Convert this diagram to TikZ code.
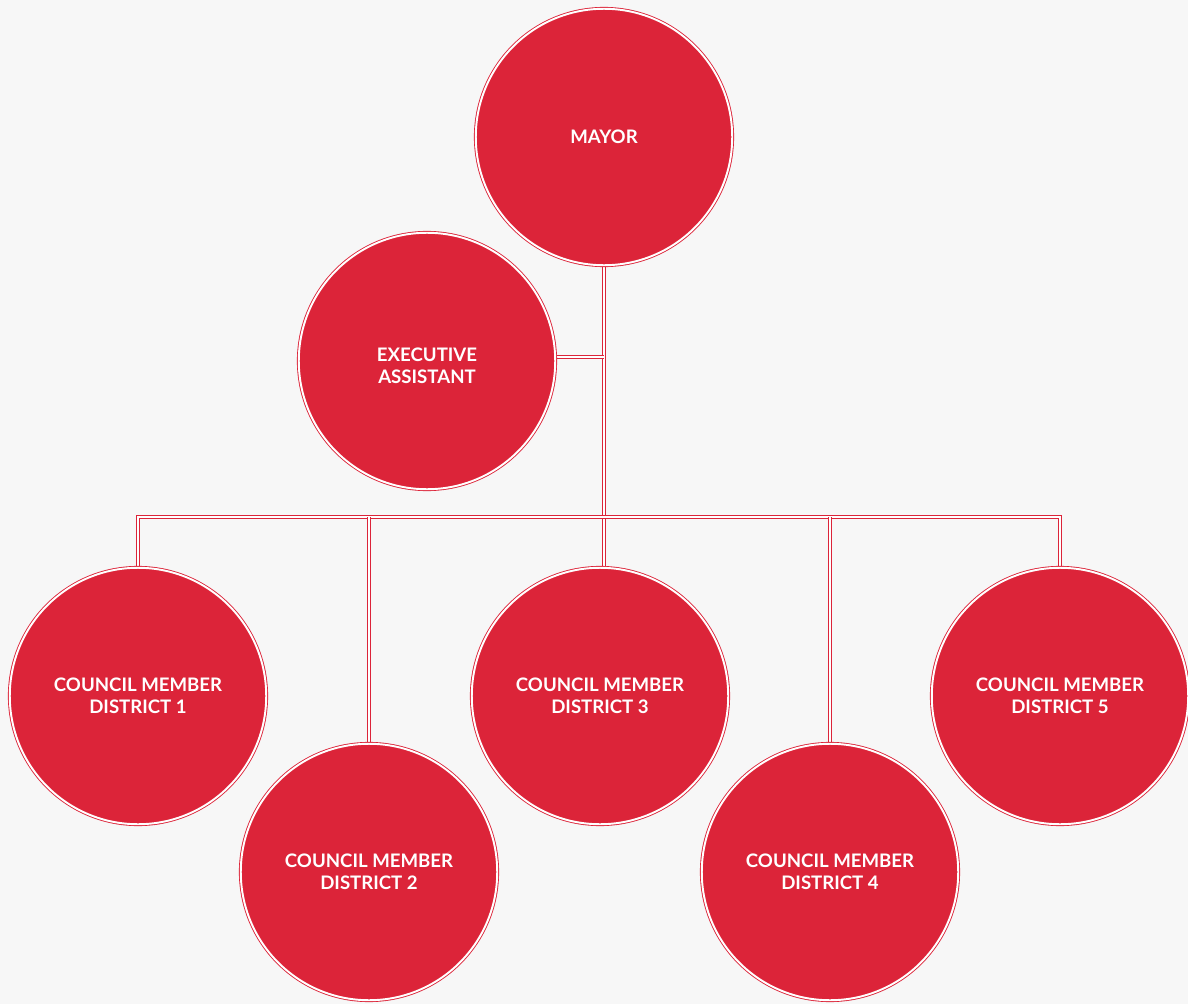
\documentclass[tikz,border=0pt]{standalone}
\usepackage{fontspec}
\setmainfont{Lato}
\usetikzlibrary{backgrounds}
\definecolor{cityred}{HTML}{DC2439}
\definecolor{paper}{HTML}{F7F7F7}
\tikzset{
  officetext/.style={align=center, text=white, font=\bfseries\fontsize{10.6}{12.5}\selectfont},
  office/.style={circle, fill=cityred, draw=cityred, double=white, double distance=1.1pt,
    line width=0.5pt, minimum size=5.13cm, inner sep=0pt, officetext},
  link/.style={draw=cityred, double=white, double distance=0.9pt, line width=0.6pt}
}
\begin{document}
\begin{tikzpicture}[x=0.02cm,y=-0.02cm]
\useasboundingbox (0,0) rectangle (1188,1004);

\node[office] (mayor) at (604,137) {MAYOR};
\node[office, label={[officetext, yshift=-0.09cm]center:EXECUTIVE\\ASSISTANT}] (exec) at (427,361) {};

\node[office] (cm1) at (138,696) {COUNCIL MEMBER\\DISTRICT 1};
\node[office] (cm2) at (369,872) {COUNCIL MEMBER\\DISTRICT 2};
\node[office] (cm3) at (600,696) {COUNCIL MEMBER\\DISTRICT 3};
\node[office] (cm4) at (830,872) {COUNCIL MEMBER\\DISTRICT 4};
\node[office] (cm5) at (1060,696) {COUNCIL MEMBER\\DISTRICT 5};

\coordinate (bus) at (604,517);

\begin{scope}[on background layer]
\fill[paper] (0,0) rectangle (1188,1004);
\draw[link] (mayor.center) -- (mayor.center |- cm3.north);
\draw[link] ([yshift=0.08cm]exec.center) -- ([yshift=0.08cm]exec.center -| mayor.center);
\draw[link] (cm1.center) -- (cm1.center |- bus) -- (cm5.center |- bus) -- (cm5.center);
\foreach \n in {cm2,cm4}
  \draw[link] (\n.center) -- (\n.center |- bus);
\end{scope}

\end{tikzpicture}
\end{document}
